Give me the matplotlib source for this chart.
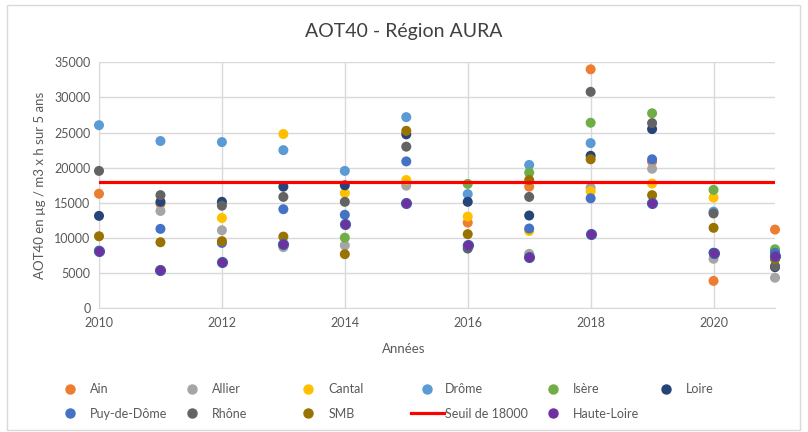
import numpy as np
import matplotlib
matplotlib.use('Agg')
import matplotlib.pyplot as plt
from matplotlib.lines import Line2D
from matplotlib.patches import Rectangle

plt.rcParams['font.family'] = ['Lato', 'DejaVu Sans']

nan = np.nan
annees = [2010, 2011, 2012, 2013, 2014, 2015, 2016, 2017, 2018, 2019, 2020, 2021]

ain = [16300, 14850, nan, nan, nan, nan, 12200, 17300, 34000, 20850, 3900, 11200]
allier = [nan, 13850, 11100, 8700, 8950, 17450, nan, 7750, 17150, 19850, 7050, 4350]
cantal = [nan, nan, 12850, 24800, 16400, 18250, 13050, 11000, 16650, 17750, 15750, 7300]
drome = [26050, 23800, 23650, 22500, 19550, 27200, 16250, 20400, 23500, nan, 13750, 8100]
isere = [nan, nan, nan, nan, 10050, nan, 17700, 19300, 26400, 27750, 16850, 8400]
loire = [13150, 15150, 15150, 17300, 17500, 24750, 15150, 13200, 21700, 25500, 7900, 5850]
puy = [8200, 11300, 9300, 14100, 13300, 20900, 8900, 11350, 15650, 21200, nan, 7900]
rhone = [19550, 16100, 14600, 15850, 15150, 23000, 8500, 15850, 30800, 26350, 13500, 6000]
smb = [10250, 9400, 9550, 10200, 7700, 25250, 10550, 18250, 21200, 16100, 11450, 7000]
haute_loire = [8100, 5400, 6650, 9200, 12000, 15000, 9000, 7350, 10550, 15000, 7850, 7500]

seuil_x = [2010, 2021]
seuil_y = [18000, 18000]

series = [
    ('Ain', ain, '#ED7D31'),
    ('Allier', allier, '#A5A5A5'),
    ('Cantal', cantal, '#FFC000'),
    ('Drôme', drome, '#5B9BD5'),
    ('Isère', isere, '#70AD47'),
    ('Loire', loire, '#264478'),
    ('Puy-de-Dôme', puy, '#4472C4'),
    ('Rhône', rhone, '#636363'),
    ('SMB', smb, '#997300'),
]

fig = plt.figure(figsize=(8.08, 4.32), dpi=100)
ax = fig.add_axes([99 / 808, 1 - 308.3 / 432, (775 - 99) / 808, (308.3 - 62.3) / 432])

handles = {}
for nom, vals, col in series:
    ax.scatter(annees, vals, s=52, color=col, edgecolors='none', zorder=3, clip_on=False)
    handles[nom] = Line2D([], [], marker='o', ls='none', color=col, markersize=6.5)

ax.plot(seuil_x, seuil_y, color='#FF0000', lw=2.3, zorder=3)
handles['Seuil de 18000'] = Line2D([], [], color='#FF0000', lw=2.3)

ax.scatter(annees, haute_loire, s=52, color='#7030A0', edgecolors='#3F5FA8', linewidths=0.8,
           zorder=3, clip_on=False)
handles['Haute-Loire'] = Line2D([], [], marker='o', ls='none', color='#7030A0', markersize=6.5)

ax.set_xlim(2010, 2021)
ax.set_ylim(0, 35000)
ax.set_xticks(range(2010, 2021, 2))
ax.set_yticks(range(0, 35001, 5000))
ax.grid(True, color='#D9D9D9', lw=1)
ax.set_axisbelow(True)
for s in ['top', 'right']:
    ax.spines[s].set_visible(False)
for s in ['left', 'bottom']:
    ax.spines[s].set_color('#D9D9D9')
ax.tick_params(length=0, labelsize=9, colors='#595959', pad=6)

fig.text(0.5, 1 - 32 / 432, 'AOT40 - Région AURA', ha='center', va='center', fontsize=14, color='#404040')
fig.text(0.5, 1 - 349 / 432, 'Années', ha='center', va='center', fontsize=9.5, color='#595959')
fig.text(40 / 808, 1 - 185 / 432, 'AOT40 en µg / m3 x h sur 5 ans', ha='center', va='center',
         rotation=90, fontsize=9.5, color='#595959')

# legende : une colonne a la fois pour placer comme Excel
colonnes = [
    (64, ['Ain', 'Puy-de-Dôme'], 1.0, 1.1),
    (186, ['Allier', 'Rhône'], 1.0, 1.1),
    (302, ['Cantal', 'SMB'], 1.0, 1.1),
    (411, ['Drôme', 'Seuil de 18000'], 2.6, 0.15),
    (547, ['Isère', 'Haute-Loire'], 1.0, 1.1),
    (660, ['Loire'], 1.0, 1.1),
]
for x0, noms, hl, pad in colonnes:
    leg = fig.legend([handles[n] for n in noms], noms, loc='upper left',
                     bbox_to_anchor=(x0 / 808, 1 - 383 / 432), frameon=False,
                     handlelength=hl, handletextpad=pad, borderpad=0, borderaxespad=0,
                     labelspacing=1.0, fontsize=9, labelcolor='#595959')

fig.patches.append(Rectangle((7 / 808, 2 / 432), 793 / 808, 425 / 432, transform=fig.transFigure,
                             fill=False, edgecolor='#D9D9D9', lw=1))

plt.savefig('out.png', dpi=100)
